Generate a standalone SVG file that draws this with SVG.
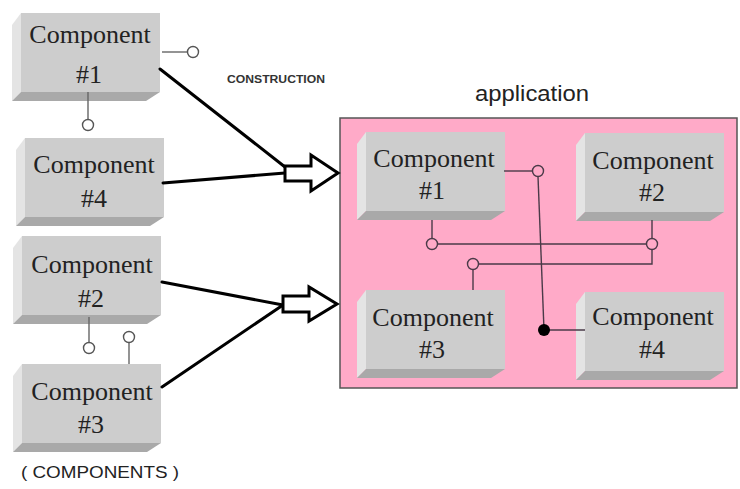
<svg xmlns="http://www.w3.org/2000/svg" xmlns:xlink="http://www.w3.org/1999/xlink" width="740" height="489" viewBox="0 0 740 489">
<style>
.lbl{font-family:"Liberation Serif","Times New Roman",serif;font-size:26px;fill:#222;text-anchor:middle}
.thick{stroke:#000;stroke-width:3;fill:none;stroke-linecap:round}
.lol{stroke:#666;stroke-width:1.4;fill:none}
.lolc{stroke:#555;stroke-width:1.4;fill:#fff}
.in{stroke:#4a3a48;stroke-width:1.4;fill:none}
.inc{stroke:#4a3a48;stroke-width:1.4;fill:#ffaac8}
.blk{fill:#fff;stroke:#000;stroke-width:3;stroke-linejoin:miter}
</style>
<defs>
<g id="box">
<polygon points="0,0 -9,12 -9,88 0,79" fill="#e4e4e4"/>
<polygon points="0,79 139,79 125,88 -9,88" fill="#a9a9a9"/>
<rect x="0" y="0" width="139" height="79" fill="#cdcdcd"/>
</g>
</defs>
<rect width="740" height="489" fill="#fff"/>

<g id="application">
<rect x="340" y="118" width="397" height="270" fill="#ffaac8" stroke="#555" stroke-width="1.5"/>
<text x="532" y="101" font-family="Liberation Sans, Arial, sans-serif" font-size="22" fill="#222" text-anchor="middle" textLength="114" lengthAdjust="spacingAndGlyphs">application</text>
</g>

<g id="left-c1"><use xlink:href="#box" x="21" y="13"/><text class="lbl" x="90" y="43">Component</text><text class="lbl" x="89" y="83">#1</text></g>
<g id="left-c4"><use xlink:href="#box" x="25" y="138"/><text class="lbl" x="94" y="173">Component</text><text class="lbl" x="94" y="207">#4</text></g>
<g id="left-c2"><use xlink:href="#box" x="22" y="236"/><text class="lbl" x="92" y="273">Component</text><text class="lbl" x="91" y="307">#2</text></g>
<g id="left-c3"><use xlink:href="#box" x="22" y="364"/><text class="lbl" x="92" y="400">Component</text><text class="lbl" x="91" y="433">#3</text></g>

<g id="app-c1"><use xlink:href="#box" x="366" y="132"/><text class="lbl" x="434" y="167">Component</text><text class="lbl" x="432" y="199">#1</text></g>
<g id="app-c2"><use xlink:href="#box" x="585" y="133"/><text class="lbl" x="653" y="169">Component</text><text class="lbl" x="652" y="201">#2</text></g>
<g id="app-c3"><use xlink:href="#box" x="366" y="290"/><text class="lbl" x="433" y="326">Component</text><text class="lbl" x="432" y="358">#3</text></g>
<g id="app-c4"><use xlink:href="#box" x="585" y="292"/><text class="lbl" x="653" y="325">Component</text><text class="lbl" x="652" y="358">#4</text></g>

<g id="connectors">
<!-- left lollipops -->
<line class="lol" x1="162" y1="52" x2="187.5" y2="52"/><circle class="lolc" cx="193" cy="52" r="5.5"/>
<line class="lol" x1="88" y1="92" x2="88" y2="119"/><circle class="lolc" cx="88" cy="125" r="5.5"/>
<line class="lol" x1="89" y1="317" x2="89" y2="342"/><circle class="lolc" cx="89" cy="348" r="5.5"/>
<line class="lol" x1="129" y1="343" x2="129" y2="364"/><circle class="lolc" cx="129" cy="337" r="5.5"/>
<!-- construction lines -->
<line class="thick" x1="160" y1="69" x2="285" y2="167"/>
<line class="thick" x1="163" y1="183" x2="285" y2="173"/>
<line class="thick" x1="162" y1="282" x2="283" y2="305"/>
<line class="thick" x1="162" y1="387" x2="283" y2="305"/>
<polygon class="blk" points="285,166 311,166 311,155 338,173 311,191 311,181 285,181"/>
<polygon class="blk" points="283,296 309,296 309,287 337,304 309,321 309,312 283,312"/>
<!-- application wiring -->
<line class="in" x1="504" y1="171" x2="532.5" y2="171"/><circle class="inc" cx="538" cy="171" r="5.5"/>
<line class="in" x1="538" y1="176.5" x2="544" y2="330"/>
<line class="in" x1="544" y1="330" x2="585" y2="330"/>
<circle cx="544" cy="330" r="6" fill="#000"/>
<line class="in" x1="432" y1="220" x2="432" y2="238.5"/>
<line class="in" x1="437.5" y1="244" x2="646.5" y2="244"/>
<circle class="inc" cx="432" cy="244" r="5.5"/>
<line class="in" x1="652" y1="220" x2="652" y2="238.5"/>
<polyline class="in" points="652,249.5 652,264 478.5,264"/>
<circle class="inc" cx="652" cy="244" r="5.5"/>
<circle class="inc" cx="473" cy="264" r="5.5"/>
<line class="in" x1="473" y1="269.5" x2="473" y2="290"/>
</g>

<text x="276" y="83" font-family="Liberation Sans, Arial, sans-serif" font-size="10" font-weight="bold" fill="#333" text-anchor="middle" textLength="98" lengthAdjust="spacingAndGlyphs">CONSTRUCTION</text>
<text x="100" y="478" font-family="Liberation Sans, Arial, sans-serif" font-size="17" fill="#222" text-anchor="middle" textLength="158" lengthAdjust="spacingAndGlyphs">( COMPONENTS )</text>
</svg>
